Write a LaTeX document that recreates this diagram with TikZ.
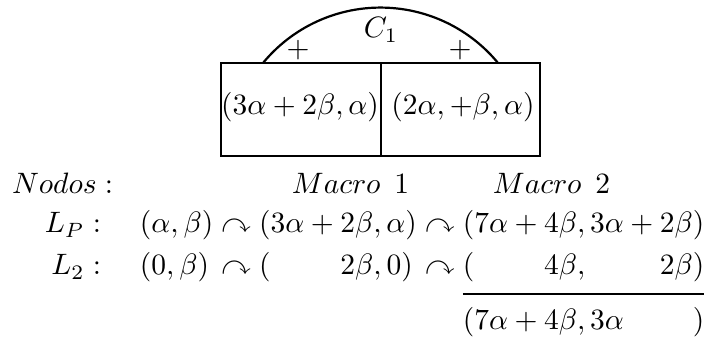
\documentclass[tikz,border=0pt]{standalone}
\usepackage{amssymb}
\begin{document}
\begin{tikzpicture}[x=0.339pt,y=0.339pt,
  lbl/.style={inner sep=0pt, outer sep=0pt},
  cell/.style={draw, line width=0.75pt, inner sep=0pt, minimum height=31.5pt},
  bow/.style={line width=0.75pt},
  sumrule/.style={line width=0.6pt}]
\useasboundingbox (0,0) rectangle (705,-339);
% boxes
\node[cell, minimum width=54.24pt] (bl) at (301,-109.5) {};
\node[cell, minimum width=53.9pt] (br) at (460.5,-109.5) {};
% arc
\coordinate (ca) at (263,-63);
\draw[bow] (ca) arc[start angle=140.5, end angle=39.5, radius=51.63pt] coordinate (cb);
\node[lbl, anchor=base] (c1) at (381,-38) {$C_1$};
\node[lbl] (plusl) at (298,-50) {$+$};
\node[lbl] (plusr) at (460,-50) {$+$};
% box texts
\node[lbl] (tl) at (300,-107) {$(3\alpha+2\beta,\alpha)$};
\node[lbl] (tr) at (463,-107) {$(2\alpha,+\beta,\alpha)$};
% row labels
\node[lbl, anchor=base west] (nodos) at (12,-194) {$Nodos:$};
\node[lbl, anchor=base west] (m1) at (292,-194) {$Macro\hspace{4.7pt}1$};
\node[lbl, anchor=base west] (m2) at (493,-194) {$Macro\hspace{4.7pt}2$};
\node[lbl, anchor=base east] (lp) at (101,-233) {$L_P:$};
\node[lbl, anchor=base east] (l2) at (101,-275) {$L_2:$};
% L_P row
\node[lbl, anchor=base west] (pa) at (140,-233) {$(\alpha,\beta)$};
\node[lbl, anchor=base west] (pr1) at (pa.base east) {${}\curvearrowright{}$};
\node[lbl, anchor=base west] (pb) at (pr1.base east) {$(3\alpha+2\beta,\alpha)$};
\node[lbl, anchor=base west] (pr2) at (pb.base east) {${}\curvearrowright{}$};
\node[lbl, anchor=base west] (pc) at (pr2.base east) {$(7\alpha+4\beta,3\alpha+2\beta)$};
% L_2 row
\node[lbl, anchor=base west] (qa) at (140,-275) {$(0,\beta)$};
\node[lbl, anchor=base west] (qr1) at (pr1.base west |- qa.base) {${}\curvearrowright{}$};
\node[lbl, anchor=base west] (qb) at (pb.base west |- qa.base) {$(\phantom{3\alpha+{}}2\beta,0)$};
\node[lbl, anchor=base west] (qr2) at (pr2.base west |- qa.base) {${}\curvearrowright{}$};
\node[lbl, anchor=base west] (qc) at (pc.base west |- qa.base) {$(\phantom{7\alpha+{}}4\beta,\phantom{3\alpha+{}}2\beta)$};
% sum rule and result
\draw[sumrule] ([yshift=-6.4pt]qc.base west) -- ([yshift=-6.4pt]qc.base east);
\node[lbl, anchor=base west] (sc) at (pc.base west |- 0,-330) {$(7\alpha+4\beta,3\alpha\phantom{{}+2\beta})$};
\end{tikzpicture}
\end{document}
